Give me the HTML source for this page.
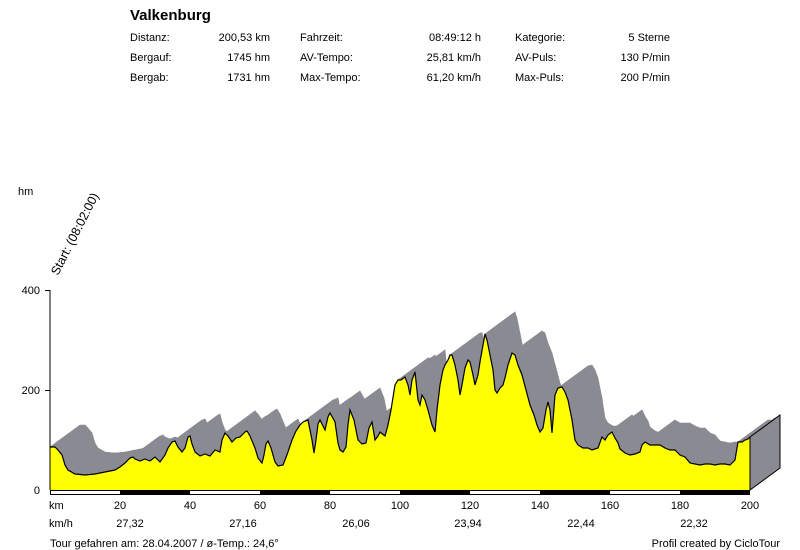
<!DOCTYPE html>
<html><head><meta charset="utf-8"><style>
body{margin:0;background:#fff;width:800px;height:550px;overflow:hidden}
svg{display:block;font-family:"Liberation Sans",Arial,sans-serif;font-size:11px}
</style></head><body>
<svg id="s" width="800" height="550" xmlns="http://www.w3.org/2000/svg">
<text x="130" y="20" font-size="15" font-weight="bold">Valkenburg</text>
<g font-size="11">
<text x="130" y="41">Distanz:</text><text x="270" y="41" text-anchor="end">200,53 km</text>
<text x="130" y="61">Bergauf:</text><text x="270" y="61" text-anchor="end">1745 hm</text>
<text x="130" y="81">Bergab:</text><text x="270" y="81" text-anchor="end">1731 hm</text>
<text x="300" y="41">Fahrzeit:</text><text x="481" y="41" text-anchor="end">08:49:12 h</text>
<text x="300" y="61">AV-Tempo:</text><text x="481" y="61" text-anchor="end">25,81 km/h</text>
<text x="300" y="81">Max-Tempo:</text><text x="481" y="81" text-anchor="end">61,20 km/h</text>
<text x="515" y="41">Kategorie:</text><text x="670" y="41" text-anchor="end">5 Sterne</text>
<text x="515" y="61">AV-Puls:</text><text x="670" y="61" text-anchor="end">130 P/min</text>
<text x="515" y="81">Max-Puls:</text><text x="670" y="81" text-anchor="end">200 P/min</text>
<text x="18" y="195">hm</text>
<text transform="translate(58,276) rotate(-63)" font-size="12.5">Start: (08:02:00)</text>
<text x="40" y="294" text-anchor="end">400</text>
<text x="40" y="394" text-anchor="end">200</text>
<text x="40" y="494" text-anchor="end">0</text>
<text x="49" y="509">km</text>
<text x="49" y="527">km/h</text>
<text x="50" y="547">Tour gefahren am: 28.04.2007  /  ø-Temp.: 24,6°</text>
<text x="780" y="547" text-anchor="end">Profil created by CicloTour</text>
</g>
<g id="g"></g>
<line x1="50" y1="290" x2="50" y2="490" stroke="#000"/>
<line x1="45" y1="290.5" x2="50" y2="290.5" stroke="#000"/>
<line x1="45" y1="390.5" x2="50" y2="390.5" stroke="#000"/>
<g id="bar"></g>
</svg>
<script>
var P=[[50,447],[55,447],[58,450],[62,455],[65,465],[68,470],[75,474],[85,475],[95,474],[105,472],[115,470],[120,467],[125,463],[130,458],[133,457],[135,459],[140,461],[145,459],[150,461],[155,457],[160,462],[165,455],[168,448],[172,442],[175,441],[178,447],[182,452],[185,448],[188,437],[190,436],[192,444],[195,452],[200,456],[205,454],[210,456],[215,450],[220,452],[222,440],[225,433],[228,436],[232,442],[236,438],[240,437],[245,432],[247,431],[250,436],[255,448],[258,458],[262,463],[264,455],[266,444],[268,441],[271,448],[275,462],[278,466],[283,465],[285,460],[288,452],[292,440],[296,431],[300,425],[303,422],[308,420],[312,440],[314,453],[316,440],[318,424],[320,420],[325,430],[328,417],[330,413],[335,422],[338,443],[340,450],[343,452],[346,447],[348,425],[350,410],[354,420],[358,440],[362,444],[366,443],[369,428],[372,422],[375,440],[378,436],[380,432],[385,436],[388,425],[391,410],[395,385],[398,380],[401,380],[405,377],[408,385],[410,395],[412,380],[415,372],[418,400],[420,405],[422,395],[425,400],[428,410],[432,425],[435,432],[437,410],[440,385],[443,370],[445,365],[448,360],[450,355],[452,355],[455,365],[458,380],[460,395],[462,385],[465,368],[468,360],[470,362],[473,375],[475,385],[478,375],[480,362],[483,345],[485,334],[487,340],[490,355],[493,370],[495,390],[497,393],[500,388],[503,385],[505,378],[508,365],[512,353],[515,355],[518,365],[522,375],[526,390],[530,405],[534,415],[537,425],[540,432],[543,428],[546,410],[548,402],[550,410],[552,433],[555,395],[558,388],[562,387],[565,392],[568,400],[570,410],[572,420],[575,440],[578,445],[583,448],[588,448],[592,450],[598,448],[602,437],[605,440],[608,435],[612,432],[615,438],[618,443],[620,449],[625,453],[630,455],[635,454],[640,452],[642,445],[645,442],[650,445],[655,445],[660,445],[665,448],[670,450],[675,450],[680,455],[685,457],[690,463],[695,464],[700,465],[705,464],[710,464],[715,465],[720,464],[725,464],[730,465],[735,460],[738,442],[742,442],[745,440],[748,439],[750,437]];
var dx=30,dy=-22,ns='http://www.w3.org/2000/svg',g=document.getElementById('g');
function add(tag,a){var e=document.createElementNS(ns,tag);for(var k in a)e.setAttribute(k,a[k]);g.appendChild(e);return e;}
for(var i=0;i<P.length-1;i++){var a=P[i],b=P[i+1];
add('polygon',{points:a[0]+','+a[1]+' '+b[0]+','+b[1]+' '+(b[0]+dx)+','+(b[1]+dy)+' '+(a[0]+dx)+','+(a[1]+dy),fill:'#8a8a92',stroke:'#8a8a92','stroke-width':'0.6'});}
add('polygon',{points:'750,490 750,437 780,415 780,468',fill:'#8a8a92',stroke:'#000','stroke-width':'1'});
var f='M50,490';P.forEach(function(p){f+='L'+p[0]+','+p[1];});f+='L750,490Z';
add('path',{d:f,fill:'#ffff00'});
var l='M'+P.map(function(p){return p[0]+','+p[1]}).join('L');
add('path',{d:l,fill:'none',stroke:'#000','stroke-width':'1.2'});
add('line',{x1:750,y1:437,x2:750,y2:490,stroke:'#000'});
var bar=document.getElementById('bar');
for(var k=0;k<10;k++){var r=document.createElementNS(ns,'rect');r.setAttribute('x',50+k*70);r.setAttribute('y',490);r.setAttribute('width',70);r.setAttribute('height',4);r.setAttribute('fill',k%2?'#000':'#fff');bar.appendChild(r);}
var o=document.createElementNS(ns,'rect');o.setAttribute('x',50.5);o.setAttribute('y',490.5);o.setAttribute('width',699);o.setAttribute('height',4);o.setAttribute('fill','none');o.setAttribute('stroke','#000');bar.appendChild(o);
[20,40,60,80,100,120,140,160,180,200].forEach(function(v){var t=document.createElementNS(ns,'text');t.setAttribute('x',50+v*3.5);t.setAttribute('y',509);t.setAttribute('text-anchor','middle');t.setAttribute('font-size','11');t.textContent=v;bar.appendChild(t);});
[['27,32',130],['27,16',243],['26,06',356],['23,94',468],['22,44',581],['22,32',694]].forEach(function(v){var t=document.createElementNS(ns,'text');t.setAttribute('x',v[1]);t.setAttribute('y',527);t.setAttribute('text-anchor','middle');t.setAttribute('font-size','11');t.textContent=v[0];bar.appendChild(t);});
</script>
</body></html>
